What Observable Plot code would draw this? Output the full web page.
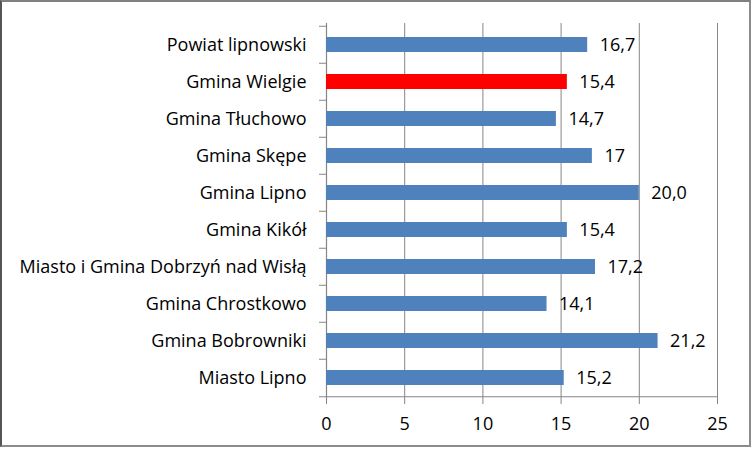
<!DOCTYPE html>
<html><head><meta charset="utf-8">
<script src="https://cdn.jsdelivr.net/npm/d3@7"></script>
<script src="https://cdn.jsdelivr.net/npm/@observablehq/plot@0.6"></script>
<style>
body{margin:0;background:#fff}
#wrap{position:relative;width:753px;height:451px;overflow:hidden;background:#fff}
#frame{position:absolute;left:0;top:0;width:751px;height:447px;box-sizing:border-box;border-top:2px solid #808080;border-left:2px solid #555;border-right:2px solid #8c8c8c;border-bottom:2px solid #8c8c8c;pointer-events:none}
svg{display:block}
</style></head>
<body><div id="wrap"><div id="frame"></div></div>
<script>
const categories = ["Powiat lipnowski","Gmina Wielgie","Gmina Tłuchowo","Gmina Skępe","Gmina Lipno","Gmina Kikół","Miasto i Gmina Dobrzyń nad Wisłą","Gmina Chrostkowo","Gmina Bobrowniki","Miasto Lipno"];
const values = [16.7,15.4,14.7,17,20.0,15.4,17.2,14.1,21.2,15.2];
const valueLabels = ["16,7","15,4","14,7","17","20,0","15,4","17,2","14,1","21,2","15,2"];
const highlighted = ["Gmina Wielgie"];
const xTicks = [0,5,10,15,20,25];

const data = categories.map((c,i)=>({category:c,value:values[i],label:valueLabels[i]}));
const W=753,H=451,mL=326,mR=36,mT=23,mB=53;
const step=(H-mT-mB)/categories.length;
const grid="#868686";
const font="'Open Sans', Lato, sans-serif";
const fs=18;

const chart = Plot.plot({
  width:W,height:H,marginLeft:mL,marginRight:mR,marginTop:mT,marginBottom:mB,
  style:{fontFamily:font,fontSize:fs+"px",color:"#000",background:"transparent"},
  x:{domain:[0,25],ticks:xTicks},
  y:{domain:categories,paddingInner:0.6,paddingOuter:0.3,align:0.5},
  marks:[
    Plot.ruleX(xTicks.slice(1),{stroke:grid,strokeWidth:1,strokeOpacity:1}),
    Plot.ruleX([0],{stroke:grid,strokeWidth:1.2}),
    Plot.ruleY([categories[categories.length-1]],{x1:0,x2:25,stroke:grid,strokeWidth:1.2,dy:step/2}),
    Plot.barX(data,{y:"category",x:"value",fill:d=>highlighted.includes(d.category)?"#FF0000":"#4F81BD"}),
    Plot.text(data,{y:"category",x:"value",text:"label",textAnchor:"start",dx:12,fontSize:fs,fill:"#000"}),
    Plot.axisX({ticks:xTicks,tickSize:6,tickPadding:13,stroke:grid,fontSize:fs,label:null,tickFormat:d=>String(d),strokeOpacity:1}),
    Plot.axisY({tickSize:0,tickPadding:20,fontSize:fs,label:null}),
    Plot.axisY({tickSize:7,text:null,dy:-step/2,stroke:grid,strokeOpacity:1,label:null}),
    Plot.axisY([categories[categories.length-1]],{tickSize:7,text:null,dy:step/2,stroke:grid,strokeOpacity:1,label:null})
  ]
});
chart.style.position="absolute";chart.style.left="0";chart.style.top="0";
document.getElementById("wrap").insertBefore(chart, document.getElementById("frame"));
</script>
</body></html>
